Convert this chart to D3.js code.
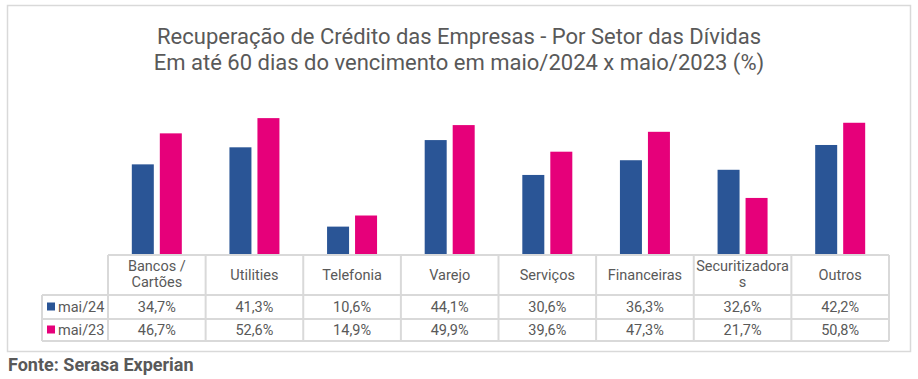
<!DOCTYPE html>
<html><head><meta charset="utf-8">
<script src="https://cdn.jsdelivr.net/npm/d3@7"></script>
<style>body{margin:0;background:#fff;} text{font-family:Roboto, sans-serif;}</style>
</head><body>
<svg id="c" width="918" height="379"></svg>
<script>
const categories = ["Bancos / Cartões","Utilities","Telefonia","Varejo","Serviços","Financeiras","Securitizadoras","Outros"];
const catLines = [["Bancos /","Cartões"],["Utilities"],["Telefonia"],["Varejo"],["Serviços"],["Financeiras"],["Securitizadora","s"],["Outros"]];
const seriesNames = ["mai/24","mai/23"];
const mai24 = [34.7,41.3,10.6,44.1,30.6,36.3,32.6,42.2];
const mai23 = [46.7,52.6,14.9,49.9,39.6,47.3,21.7,50.8];
const colors = ["#2A5596","#E6007A"];
const fmt = v => v.toFixed(1).replace(".", ",") + "%";

const svg = d3.select("#c");
const grey = "#595959", lineC = "#D9D9D9";

svg.append("rect").attr("x",7.5).attr("y",5.5).attr("width",903).attr("height",346)
  .attr("fill","#fff").attr("stroke",lineC).attr("stroke-width",1.5);

svg.append("text").attr("x",459).attr("y",44).attr("text-anchor","middle")
  .attr("font-size",22).attr("fill",grey).text("Recuperação de Crédito das Empresas - Por Setor das Dívidas");
svg.append("text").attr("x",459).attr("y",69.5).attr("text-anchor","middle")
  .attr("font-size",22).attr("fill",grey).text("Em até 60 dias do vencimento em maio/2024 x maio/2023 (%)");

const x0 = d3.scaleBand().domain(categories).range([108, 889]).paddingInner(0).paddingOuter(0);
const y = d3.scaleLinear().domain([0,60]).range([254, 99]);
const bw = 22, gap = 6;

const data = [mai24, mai23];
data.forEach((arr, si) => {
  svg.append("g").selectAll("rect").data(arr).join("rect")
    .attr("x",(d,i)=> x0(categories[i]) + x0.bandwidth()/2 + (si===0 ? -(gap/2+bw) : gap/2))
    .attr("y", d=>y(d)).attr("width",bw).attr("height",d=>y(0)-y(d))
    .attr("fill",colors[si]);
});

// table
const rowY = [255, 295, 319, 341];
const left = 42;
const g = svg.append("g").attr("stroke",lineC).attr("stroke-width",2).attr("fill","none");
g.append("line").attr("x1",108).attr("x2",889).attr("y1",rowY[0]).attr("y2",rowY[0]);
[1,2,3].forEach(k=> g.append("line").attr("x1",left).attr("x2",889).attr("y1",rowY[k]).attr("y2",rowY[k]));
g.append("line").attr("x1",left).attr("x2",left).attr("y1",rowY[1]).attr("y2",rowY[3]);
categories.forEach(c=> g.append("line").attr("x1",x0(c)).attr("x2",x0(c)).attr("y1",rowY[0]).attr("y2",rowY[3]));
g.append("line").attr("x1",889).attr("x2",889).attr("y1",rowY[0]).attr("y2",rowY[3]);

const fs = 14.5;
categories.forEach((c,i)=>{
  const lines = catLines[i];
  const cx = x0(c)+x0.bandwidth()/2;
  const t = svg.append("text").attr("text-anchor","middle").attr("font-size",fs).attr("fill",grey);
  if (lines.length===1) t.append("tspan").attr("x",cx).attr("y",279.5).text(lines[0]);
  else { t.append("tspan").attr("x",cx).attr("y",271).text(lines[0]);
         t.append("tspan").attr("x",cx).attr("y",286.5).text(lines[1]); }
});
const rowBase = [311.5, 334.5];
data.forEach((arr,si)=>{
  const yy = rowBase[si];
  svg.append("rect").attr("x",47).attr("y",yy-9).attr("width",8).attr("height",8).attr("fill",colors[si]);
  svg.append("text").attr("x",58).attr("y",yy).attr("font-size",fs).attr("fill",grey).text(seriesNames[si]);
  svg.append("g").selectAll("text").data(arr).join("text")
    .attr("x",(d,i)=>x0(categories[i])+x0.bandwidth()/2).attr("y",yy)
    .attr("text-anchor","middle").attr("font-size",fs).attr("fill",grey).text(fmt);
});

svg.append("text").attr("x",8).attr("y",371).attr("font-size",18).attr("font-weight","bold")
  .attr("fill",grey).text("Fonte: Serasa Experian");
</script>
</body></html>
